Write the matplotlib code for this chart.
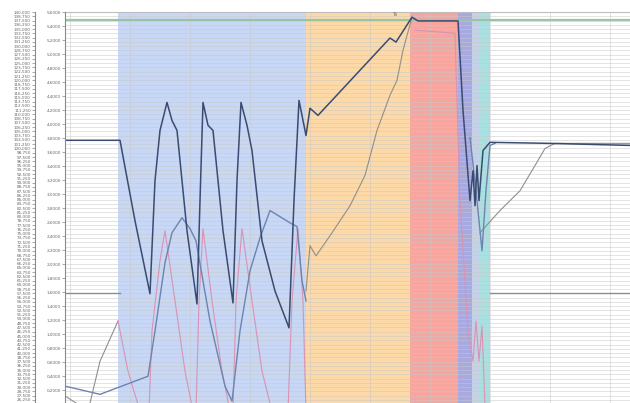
import numpy as np
import matplotlib.pyplot as plt
from matplotlib.ticker import FuncFormatter

nan = np.nan

# process phases (start, end, colour)
phase_edges = [53, 241, 345, 393, 407, 415, 425]
phase_colors = ["#c7d7f5", "#fdd9a7", "#f6a59f", "#a9a9e2", "#c4d2e8", "#a9e1e2"]

# dark main signal
t_main = [0, 55, 70, 85, 90, 95, 102, 107, 112, 122, 132, 135, 138, 143, 148, 158, 168,
          172, 176, 182, 187, 197, 210, 224, 229, 234, 241, 245, 253, 325, 331, 347, 353,
          393, 398, 405, 408, 410, 412, 414, 418, 425, 485, 565]
v_main = [102.4, 102.4, 78.8, 57.4, 90.6, 105.3, 113.5, 108.2, 105.3, 75.9, 54.4, 84.7,
          113.5, 106.8, 105.3, 75.9, 54.7, 90.6, 113.5, 106.8, 99.4, 72.9, 58.2, 47.4,
          84.7, 114.1, 103.8, 111.8, 109.7, 132.4, 131.2, 138.5, 137.4, 137.4, 111.2,
          84.7, 93.5, 83.2, 95.0, 84.7, 99.4, 101.8, 101.5, 100.9]

# steel blue signal
t_blue = [0, 35, 83, 90, 100, 107, 117, 125, 131, 145, 160, 167, 175, 185, 195, 205, 225,
          232, 237, 241, 242, 405, 411, 417, 421, 425, 430]
v_blue = [30.3, 27.9, 33.2, 46.5, 66.5, 75.3, 79.7, 76.5, 72.9, 49.4, 30.3, 25.9, 46.5,
          64.1, 73.8, 81.8, 78.2, 77.1, 61.2, 55.3, nan, 103.2, 87.6, 70.0, 87.6, 100.9, 101.5]

# pink signal
t_pink = [53, 63, 75, 84, 87, 95, 100, 110, 120, 128, 131, 134, 138, 147, 157, 165, 168,
          171, 177, 187, 197, 207, 223, 227, 233, 238, 241, 242, 350, 390, 395, 403, 408,
          411, 414, 417, 420]
v_pink = [49.4, 34.7, 22.9, 22.9, 46.5, 67.1, 75.9, 55.3, 34.7, 22.9, 22.9, 55.3, 76.5,
          55.3, 34.7, 22.9, 22.9, 55.3, 76.5, 55.3, 34.7, 22.9, 22.9, 55.3, 76.5, 55.3,
          22.9, nan, 134.7, 133.8, 84.7, 46.5, 37.6, 49.4, 37.6, 48.0, 24.4]

# light grey signal
t_grey = [0, 13, 20, 23, 35, 53, 54, 241, 245, 251, 265, 285, 300, 312, 325, 332, 338, 347,
          348, 415, 435, 455, 470, 480, 490, 565]
v_grey = [27.4, 25.0, 22.9, 22.9, 37.6, 49.4, nan, 58.2, 71.5, 68.5, 74.4, 83.2, 92.1,
          105.3, 115.6, 120.0, 128.8, 138.5, nan, 75.3, 81.8, 87.6, 95.0, 100.0, 101.5, 101.5]

# setpoint
t_set = [0, 55, 56, 425, 565]
v_set = [57.6, 57.6, nan, 57.6, 57.6]

limit = 137.6

left_ticks = np.arange(26.25, 140.01, 1.25)
right_ticks = np.arange(0.2, 5.61, 0.2)

fig = plt.figure(figsize=(6.3, 4.03), dpi=100)
ax = fig.add_axes([65 / 630, -0.003, 565 / 630, 0.973])

for i in range(len(phase_colors)):
    ax.axvspan(phase_edges[i], phase_edges[i + 1], color=phase_colors[i], lw=0, zorder=0.2)

ax.axhline(limit, color="#9cc3a6", lw=1.6, zorder=2)
ax.plot(t_set, v_set, color="#8c8c8c", lw=1.0, zorder=2)
ax.plot(t_grey, v_grey, color="#8f8f8f", lw=0.8, zorder=2)
ax.plot(t_pink, v_pink, color="#d993b4", lw=0.8, zorder=2)
ax.plot(t_blue, v_blue, color="#6c84b0", lw=1.0, zorder=3)
ax.plot(t_main, v_main, color="#3a4b72", lw=1.1, zorder=4)
ax.text(330, 138.6, "Ts", fontsize=4, color="#777777", ha="center", va="bottom")

ax.set_xlim(0, 565)
ax.set_ylim(25, 140)
ax.set_xticks(np.arange(5, 565, 60))
ax.set_yticks(left_ticks)
ax.set_axisbelow(True)
ax.grid(True, color="#c9c9c9", lw=0.5, alpha=0.7)
ax.tick_params(axis="x", bottom=False, labelbottom=False)
ax.tick_params(axis="y", labelsize=3, length=2, width=0.4, colors="#666666", pad=1)
ax.yaxis.set_major_formatter(FuncFormatter(lambda v, p: f"{v:.3f}".replace(".", ",")))
ax.spines["left"].set_position(("outward", 21.6))
ax.spines["left"].set_color("#8a8a8a")
ax.spines["top"].set_color("#bdbdbd")
ax.spines["right"].set_visible(False)
ax.spines["bottom"].set_visible(False)

ax2 = ax.twinx()
ax2.set_ylim(0, 5.6)
ax2.set_yticks(right_ticks)
ax2.yaxis.tick_left()
ax2.yaxis.set_major_formatter(FuncFormatter(lambda v, p: f"{v:.4f}".replace(".", ",")))
ax2.tick_params(axis="y", labelsize=3, length=2, width=0.4, colors="#666666", pad=1)
ax2.spines["left"].set_visible(True)
ax2.spines["left"].set_color("#8a8a8a")
ax2.spines["right"].set_visible(False)
ax2.spines["top"].set_visible(False)
ax2.spines["bottom"].set_visible(False)

fig.savefig("out.png", dpi=100)
